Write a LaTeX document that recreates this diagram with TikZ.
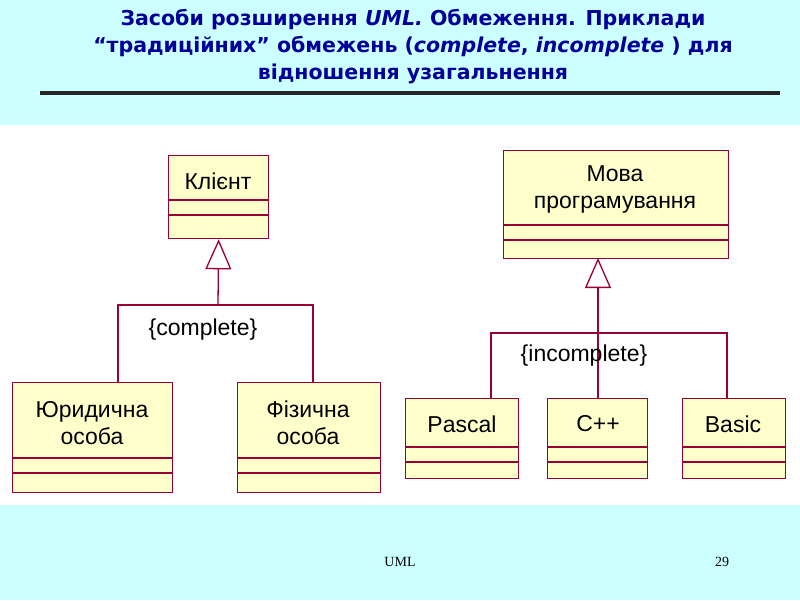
\documentclass[tikz,border=0pt]{standalone}
\usepackage{fontspec}
\setmainfont{Liberation Sans}
\newfontfamily\titlefont{DejaVu Sans}
\newfontfamily\footfont{Liberation Serif}
\usetikzlibrary{arrows.meta}
\definecolor{bgc}{HTML}{CCFFFF}
\definecolor{ttl}{HTML}{000099}
\definecolor{cls}{HTML}{FFFFCC}
\definecolor{brd}{HTML}{990033}
\tikzset{
 cbox/.style={draw=brd,fill=cls,line width=1.3pt,anchor=north west,inner sep=0pt},
 comp/.style={draw=brd,line width=1.3pt},
 gen/.style={draw=brd,line width=1.3pt,-{Triangle[open,fill=white,length=30pt,width=26pt]}},
 link/.style={draw=brd,line width=1.3pt},
 lbl/.style={font=\fontsize{23}{27}\selectfont,align=center}
}
\begin{document}
\begin{tikzpicture}[x=1pt,y=-1pt]
\fill[bgc] (0,0) rectangle (800,600);
\fill[white] (0,125) rectangle (800,505);
\node[font=\titlefont\bfseries\fontsize{20.5}{27}\selectfont,text=ttl,align=center] (title) at (413,47)
 {Засоби розширення \textit{UML.} Обмеження. Приклади\\“традиційних” обмежень (\textit{complete}, \textit{incomplete} ) для\\відношення узагальнення};
\draw[line width=3.5pt,color=black!85] (40,93) -- (780,93);
% classes
\node[cbox,minimum width=100pt,minimum height=83pt] (kl) at (168,155) {};
\node[lbl] at (218,181) {Клієнт};
\draw[comp] (168,200) -- (268,200); \draw[comp] (168,215) -- (268,215);
\node[cbox,minimum width=160pt,minimum height=110pt] (ur) at (12,382) {};
\node[lbl] at (92,423) {Юридична\\особа};
\draw[comp] (12,458) -- (172,458); \draw[comp] (12,473) -- (172,473);
\node[cbox,minimum width=143pt,minimum height=110pt] (fi) at (237,382) {};
\node[lbl] at (308,423) {Фізична\\особа};
\draw[comp] (237,458) -- (380,458); \draw[comp] (237,473) -- (380,473);
\node[cbox,minimum width=225pt,minimum height=108pt] (mo) at (503,150) {};
\node[lbl] at (615,189) {Мова\\програмування};
\draw[comp] (503,225) -- (728,225); \draw[comp] (503,240) -- (728,240);
\node[cbox,minimum width=113pt,minimum height=80pt] (pa) at (405,398) {};
\node[lbl] at (462,424) {Pascal};
\draw[comp] (405,447) -- (518,447); \draw[comp] (405,462) -- (518,462);
\node[cbox,minimum width=100pt,minimum height=80pt] (cp) at (547,398) {};
\node[lbl] at (598,424) {C++};
\draw[comp] (547,447) -- (647,447); \draw[comp] (547,462) -- (647,462);
\node[cbox,minimum width=103pt,minimum height=80pt] (ba) at (682,398) {};
\node[lbl] at (733,424) {Basic};
\draw[comp] (682,447) -- (785,447); \draw[comp] (682,462) -- (785,462);
% left generalization
\coordinate (j1) at (218,305);
\draw[gen] (j1) -- (kl.south);
\draw[link] (ur.north -| 118,0) |- (j1) -| (fi.north -| 313,0);
\node[lbl] (c1) at (203,330) {\{complete\}};
% right generalization
\draw[gen] (cp.north -| 598,0) -- (598,258);
\draw[link] (pa.north -| 491,0) |- (727,333) -- (ba.north -| 727,0);
\node[lbl] (c2) at (584,356) {\{incomplete\}};
% footer
\node[font=\footfont\fontsize{14}{16}\selectfont] (f1) at (400,562) {UML};
\node[font=\footfont\fontsize{14}{16}\selectfont] (f2) at (722,562) {29};
\end{tikzpicture}
\end{document}
